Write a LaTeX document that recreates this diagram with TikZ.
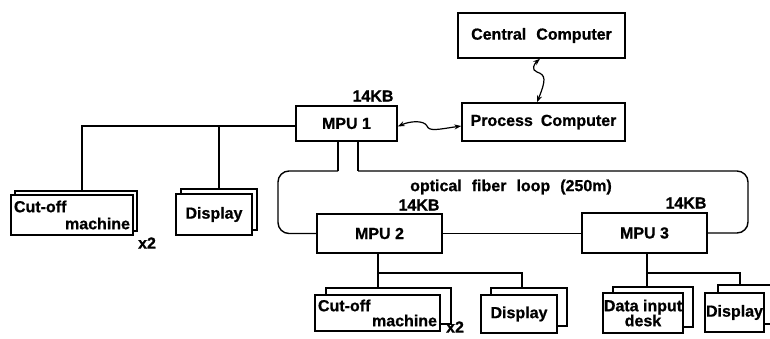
\documentclass[tikz,border=0pt]{standalone}
\usepackage{fontspec}
\setmainfont{Liberation Sans}[BoldFeatures={FakeBold=0.8}]
\usetikzlibrary{arrows.meta}
\begin{document}
\begin{tikzpicture}[x=1pt,y=-1pt,line width=1.4pt,
  box/.style={draw,fill=white,inner sep=0pt,font=\bfseries\fontsize{16}{17}\selectfont},
  back/.style={draw,fill=white,inner sep=0pt},
  lbl/.style={inner sep=0pt,font=\bfseries\fontsize{16}{17}\selectfont},
  wide/.style={execute at begin node={\spaceskip=10pt\relax}},
  two/.style={align=left,text width=#1,font=\bfseries\fontsize{16}{17}\selectfont},
  zz/.style={{Stealth[length=7pt,width=5pt]}-{Stealth[length=7pt,width=5pt]},line width=1.2pt}]
\useasboundingbox (0,0) rectangle (770,338);

% top computers
\node[box,wide,minimum width=167pt,minimum height=45pt] (cc) at (541.5,35.5) {Central Computer};
\node[box,minimum width=163pt,minimum height=38pt,execute at begin node={\spaceskip=8pt\relax}] (pc) at (543.5,122) {Process Computer};

% MPUs
\node[box,minimum width=101pt,minimum height=35pt] (m1) at (346.5,123.5) {MPU 1};
\node[box,minimum width=125pt,minimum height=39pt] (m2) at (379.5,233.5) {MPU 2};
\node[box,minimum width=125pt,minimum height=40pt] (m3) at (644.5,233) {MPU 3};

% left devices
\node[back,minimum width=122pt,minimum height=40pt] (cut1b) at (76,211) {};
\node[box,two=116pt,minimum width=122pt,minimum height=40pt] (cut1) at (72,215) {Cut-off\\\leavevmode\hfill machine};
\node[back,minimum width=76pt,minimum height=41pt] (disp1b) at (219,209.5) {};
\node[box,minimum width=76pt,minimum height=41pt] (disp1) at (214,214.5) {Display};

% MPU2 devices
\node[back,minimum width=125pt,minimum height=36pt] (cut2b) at (388.5,306) {};
\node[box,two=119pt,minimum width=125pt,minimum height=36pt,font=\bfseries\fontsize{16}{15}\selectfont] (cut2) at (377.5,313) {Cut-off\\\leavevmode\hfill machine};
\node[back,minimum width=76pt,minimum height=38pt] (disp2b) at (529,307) {};
\node[box,minimum width=76pt,minimum height=38pt] (disp2) at (519,314) {Display};

% MPU3 devices
\node[back,minimum width=80pt,minimum height=40pt] (datab) at (653,307) {};
\node[box,align=center,minimum width=80pt,minimum height=40pt,font=\bfseries\fontsize{16}{15}\selectfont] (data) at (643,313) {Data input\\desk};
\node[back,minimum width=59pt,minimum height=39pt] (disp3b) at (747.5,304.5) {};
\node[box,minimum width=59pt,minimum height=39pt] (disp3) at (734.5,312.5) {Display};

% labels
\node[lbl] (k1) at (373,96) {14KB};
\node[lbl] (k2) at (419,205) {14KB};
\node[lbl] (k3) at (686,203) {14KB};
\node[lbl,wide] (ofl) at (511,187) {optical fiber loop (250m)};
\node[lbl] (x2a) at (147,243) {x2};
\node[lbl] (x2b) at (455,327) {x2};

% left bus
\draw ([shift={(0,2.5)}]m1.west) -| ([xshift=6pt]cut1b.north);
\draw (disp1b.north) -- (disp1b.north |- 0,126);

% optical fibre loop
\draw ([xshift=-8.5pt]m1.south) -- ([xshift=-8.5pt]m1.south |- 0,171) coordinate (lt);
\draw[rounded corners=11pt] (lt) -| (278,200) |- (m2.west);
\draw ([xshift=11.5pt]m1.south) -- ([xshift=11.5pt]m1.south |- 0,171) coordinate (rt);
\draw[rounded corners=11pt] (rt) -| (748,200) |- (m3.east);
\draw (m2.east) -- (m2.east -| m3.west);

% MPU2 branches
\draw ([xshift=-1.5pt]m2.south) -- ([xshift=-1.5pt]m2.south |- cut2b.north);
\draw ([xshift=-1.5pt]m2.south |- 0,273) -| ([xshift=-7pt]disp2b.north);

% MPU3 branches
\draw ([xshift=2.5pt]m3.south) -- ([xshift=2.5pt]m3.south |- datab.north);
\draw ([xshift=2.5pt]m3.south |- 0,273) -| ([xshift=-7.5pt]disp3b.north);

% wavy links
\draw[zz] ([shift={(0,3)}]m1.east) .. controls (410,121) and (424,120) .. (427,126)
  .. controls (429,132) and (440,129) .. ([shift={(0,4)}]pc.west);
\draw[zz] ([xshift=-1.5pt]cc.south) .. controls (534,64) and (531,70) .. (537,72)
  .. controls (546,75) and (546,80) .. ([xshift=-6.5pt]pc.north);
\end{tikzpicture}
\end{document}
